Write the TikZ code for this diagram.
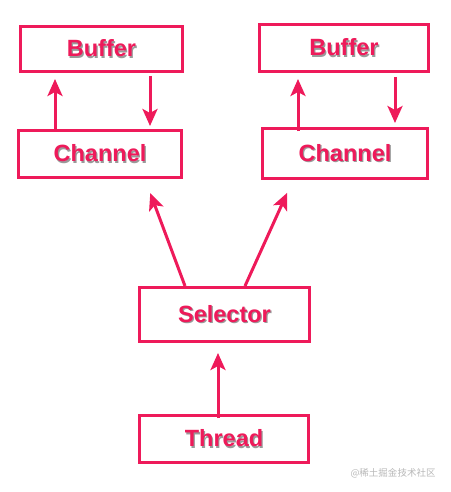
\documentclass[tikz,border=0pt]{standalone}
\usepackage{fontspec}
\setmainfont{Liberation Sans}
\newfontfamily\cjkfont{Noto Sans CJK SC}
\usepackage{tikz}
\usetikzlibrary{positioning,arrows.meta,calc}
\definecolor{niored}{HTML}{EE1A5A}
\definecolor{nioshade}{HTML}{9A9A9A}
\definecolor{niomark}{HTML}{B8B8B8}
\newcommand{\niotext}[1]{\makebox[0pt][l]{\hspace{1.2pt}\raisebox{-1.4pt}{\color{nioshade}#1}}#1}

\begin{document}
\begin{tikzpicture}[x=1pt,y=-1pt,
  box/.style={draw=niored,line width=3pt,fill=white,inner sep=0pt,font=\fontsize{23.5}{26}\selectfont\bfseries,text=niored},
  link/.style={-{Stealth[length=17pt,width=15pt,inset=4pt]},niored,line width=3pt}
]
\useasboundingbox (0,0) rectangle (450,492);
\node[box,minimum width=162pt,minimum height=45pt] (bufL) at (101.5,49) {\niotext{Buffer}};
\node[box,minimum width=163pt,minimum height=47pt] (chanL) at (100,154) {\niotext{Channel}};
\node[box,minimum width=169pt,minimum height=47pt] (bufR) at (344,48) {\niotext{Buffer}};
\node[box,minimum width=165pt,minimum height=50pt] (chanR) at (345,153.5) {\niotext{Channel}};
\node[box,minimum width=170pt,minimum height=54pt] (sel) at (224.5,314.5) {\niotext{Selector}};
\node[box,minimum width=169pt,minimum height=47pt] (thr) at (224,439) {\niotext{Thread}};

\draw[link,shorten >=6pt] ([xshift=-45pt]chanL.north) -- ([xshift=-46.5pt]bufL.south);
\draw[link,shorten <=3pt,shorten >=3pt] ([xshift=48.5pt]bufL.south) -- ([xshift=50pt]chanL.north);
\draw[link,shorten <=-4pt,shorten >=6pt] ([xshift=-47pt]chanR.north) -- ([xshift=-46pt]bufR.south);
\draw[link,shorten <=4pt,shorten >=4pt] ([xshift=51pt]bufR.south) -- ([xshift=50pt]chanR.north);
\draw[link,shorten >=15pt] ([xshift=-39.5pt]sel.north) -- ([xshift=45pt]chanL.south);
\draw[link,shorten >=14pt] ([xshift=20.5pt]sel.north) -- ([xshift=-52pt]chanR.south);
\draw[link,shorten <=-4pt,shorten >=10pt] ([xshift=-6pt]thr.north) -- ([xshift=-6.5pt]sel.south);

\node[font=\cjkfont\fontsize{9.5}{11}\selectfont,text=niomark] (mark) at (393,473) {@稀土掘金技术社区};
\end{tikzpicture}
\end{document}
